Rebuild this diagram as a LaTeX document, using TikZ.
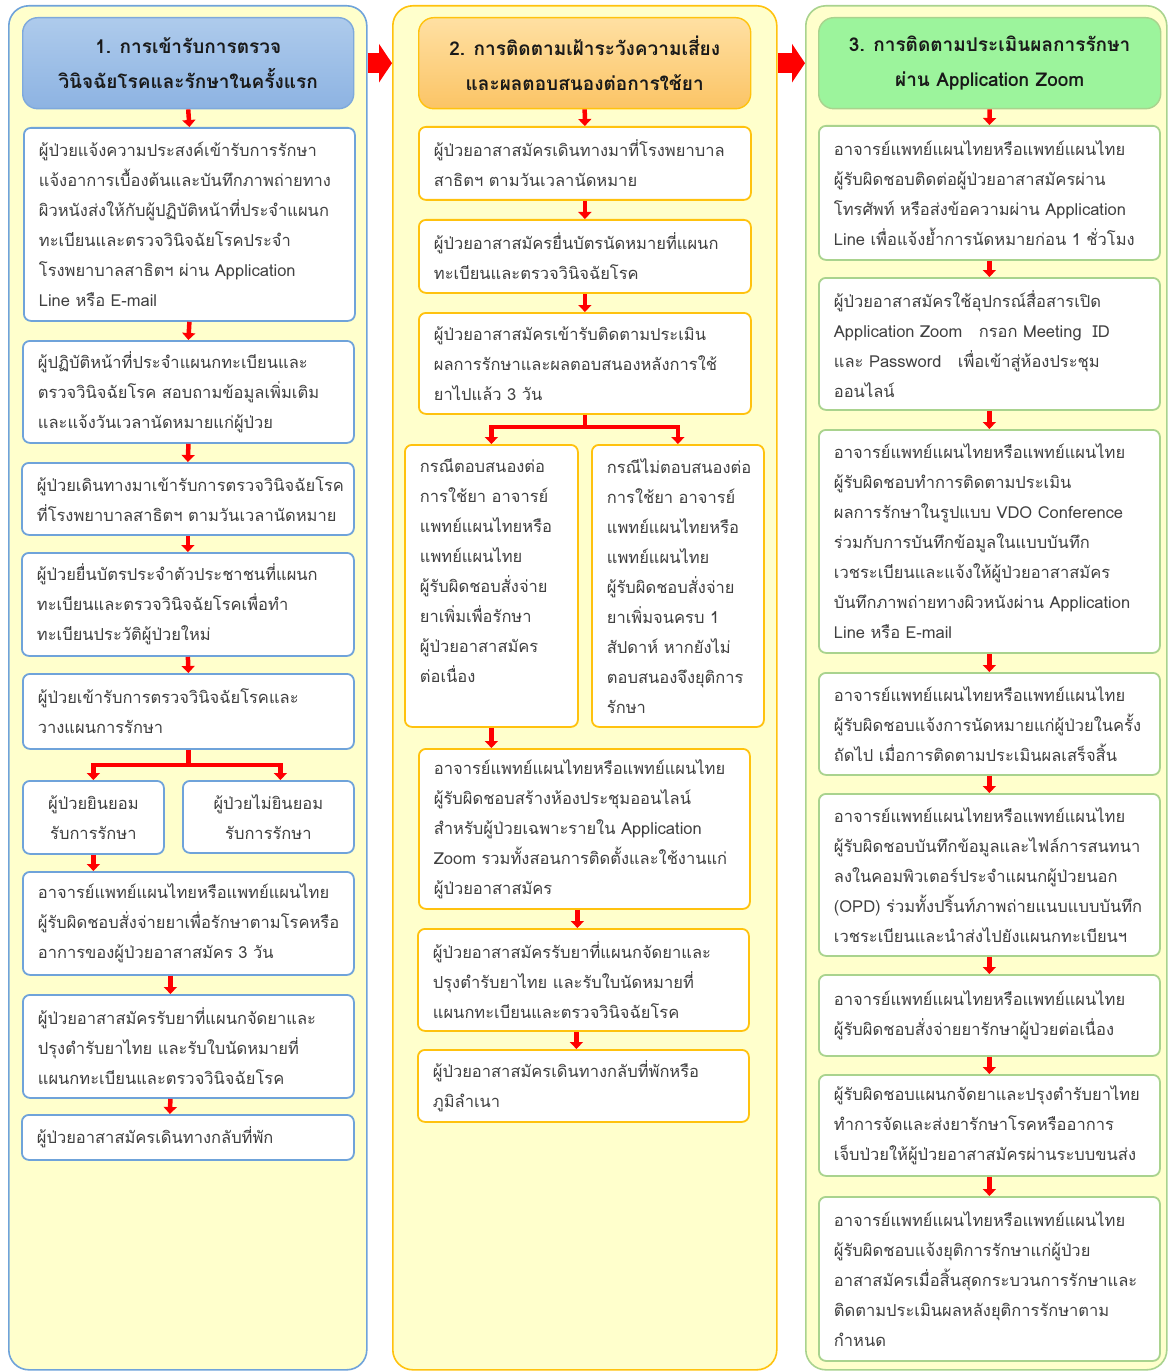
\documentclass[tikz,border=0pt]{standalone}
\usepackage{fontspec}
\setmainfont[Script=Thai]{Loma}
\usetikzlibrary{arrows.meta}

\definecolor{bgyellow}{HTML}{FFFFCC}
\definecolor{blueline}{HTML}{6FA3DA}
\definecolor{orangeline}{HTML}{FFC20E}
\definecolor{greenline}{HTML}{A9D38E}
\definecolor{txtgray}{HTML}{404040}
\definecolor{hdrbluetop}{HTML}{AECBEC}
\definecolor{hdrbluebot}{HTML}{8DB3E2}
\definecolor{hdrblueline}{HTML}{7EA9DC}
\definecolor{hdrorangetop}{HTML}{FFE0A3}
\definecolor{hdrorangebot}{HTML}{FBC465}
\definecolor{hdrgreen}{HTML}{9CF49C}

\begin{document}
\begin{tikzpicture}[x=1pt, y=-1pt]

\tikzstyle{colbox}=[draw, line width=1.6pt, rounded corners=20pt, fill=bgyellow, anchor=north west, inner sep=0pt, minimum height=1364pt];
\tikzstyle{hdr}=[draw, line width=1.4pt, rounded corners=15pt, anchor=north west, align=center, minimum height=91pt, font=\bfseries\fontsize{19}{35}\selectfont, text=black!90];
\tikzstyle{bx}=[draw, line width=1.8pt, rounded corners=7pt, fill=white, anchor=north west, align=left, inner xsep=15pt, inner ysep=0pt, text=txtgray, font=\fontsize{16.5}{30}\selectfont];
\tikzstyle{b1}=[bx, draw=blueline];
\tikzstyle{b2}=[bx, draw=orangeline];
\tikzstyle{b3}=[bx, draw=greenline];
\tikzstyle{arr}=[red, line width=4.5pt, -{Triangle[length=7pt, width=13pt]}];
\tikzstyle{bigarr}=[red, line width=20pt, -{Triangle[length=13pt, width=38pt]}];

\useasboundingbox (0,0) rectangle (1167,1372);

% columns
\node[colbox, draw=blueline, minimum width=358pt] (colA) at (8,5) {};
\node[colbox, draw=orangeline, minimum width=384pt] (colB) at (392,5) {};
\node[colbox, draw=greenline, minimum width=361pt] (colC) at (805,5) {};

% headers
\node[hdr, draw=hdrblueline, top color=hdrbluetop, bottom color=hdrbluebot, minimum width=331pt] (h1) at (22,17) {1. การเข้ารับการตรวจ\\วินิจฉัยโรคและรักษาในครั้งแรก};
\node[hdr, draw=orangeline, top color=hdrorangetop, bottom color=hdrorangebot, minimum width=332pt] (h2) at (418,17) {2. การติดตามเฝ้าระวังความเสี่ยง\\และผลตอบสนองต่อการใช้ยา};
\node[hdr, draw=greenline, fill=hdrgreen, minimum width=342pt] (h3) at (818,17) {3. การติดตามประเมินผลการรักษา\\ผ่าน Application Zoom};

\draw[bigarr] (colA.east |- h1.center) -- (colB.west |- h1.center);
\draw[bigarr] (colB.east |- h2.center) -- (colC.west |- h2.center);

% column 1
\node[b1, text width=301pt, minimum height=193pt] (a1) at (23,127) {ผู้ป่วยแจ้งความประสงค์เข้ารับการรักษา\\แจ้งอาการเบื้องต้นและบันทึกภาพถ่ายทาง\\ผิวหนังส่งให้กับผู้ปฏิบัติหน้าที่ประจำแผนก\\ทะเบียนและตรวจวินิจฉัยโรคประจำ\\โรงพยาบาลสาธิตฯ ผ่าน Application\\Line หรือ E-mail};
\node[b1, text width=301pt, minimum height=102pt] (a2) at (22,340) {ผู้ปฏิบัติหน้าที่ประจำแผนกทะเบียนและ\\ตรวจวินิจฉัยโรค สอบถามข้อมูลเพิ่มเติม\\และแจ้งวันเวลานัดหมายแก่ผู้ป่วย};
\node[b1, text width=302pt, minimum height=72pt] (a3) at (21,462) {ผู้ป่วยเดินทางมาเข้ารับการตรวจวินิจฉัยโรค\\ที่โรงพยาบาลสาธิตฯ ตามวันเวลานัดหมาย};
\node[b1, text width=302pt, minimum height=103pt] (a4) at (21,552) {ผู้ป่วยยื่นบัตรประจำตัวประชาชนที่แผนก\\ทะเบียนและตรวจวินิจฉัยโรคเพื่อทำ\\ทะเบียนประวัติผู้ป่วยใหม่};
\node[b1, text width=301pt, minimum height=75pt] (a5) at (22,673) {ผู้ป่วยเข้ารับการตรวจวินิจฉัยโรคและ\\วางแผนการรักษา};
\node[b1, align=center, text width=111pt, minimum height=73pt] (a6y) at (22,780) {ผู้ป่วยยินยอม\\รับการรักษา};
\node[b1, align=center, text width=141pt, minimum height=72pt] (a6n) at (182,780) {ผู้ป่วยไม่ยินยอม\\รับการรักษา};
\node[b1, text width=301pt, minimum height=103pt] (a7) at (22,871) {อาจารย์แพทย์แผนไทยหรือแพทย์แผนไทย\\ผู้รับผิดชอบสั่งจ่ายยาเพื่อรักษาตามโรคหรือ\\อาการของผู้ป่วยอาสาสมัคร 3 วัน};
\node[b1, text width=301pt, minimum height=103pt] (a8) at (22,994) {ผู้ป่วยอาสาสมัครรับยาที่แผนกจัดยาและ\\ปรุงตำรับยาไทย และรับใบนัดหมายที่\\แผนกทะเบียนและตรวจวินิจฉัยโรค};
\node[b1, text width=302pt, minimum height=45pt] (a9) at (21,1114) {ผู้ป่วยอาสาสมัครเดินทางกลับที่พัก};

\draw[arr] (h1.south) -- (a1.north);
\draw[arr] (a1.south) -- (a2.north);
\draw[arr] (a2.south) -- (a3.north);
\draw[arr] (a3.south) -- (a4.north);
\draw[arr] (a4.south) -- (a5.north);
\draw[arr] (a5.south) -- ++(0,15) -| (a6y.north);
\draw[arr] (a5.south) -- ++(0,15) -| ([xshift=12pt]a6n.north);
\draw[arr] (a6y.south) -- (a6y.south |- a7.north);
\draw[arr] ([xshift=-18pt]a7.south) -- ([xshift=-18pt]a8.north);
\draw[arr] ([xshift=-18pt]a8.south) -- ([xshift=-18pt]a9.north);

% column 2
\node[b2, text width=302pt, minimum height=73pt] (b1) at (418,126) {ผู้ป่วยอาสาสมัครเดินทางมาที่โรงพยาบาล\\สาธิตฯ ตามวันเวลานัดหมาย};
\node[b2, text width=302pt, minimum height=73pt] (b2) at (418,219) {ผู้ป่วยอาสาสมัครยื่นบัตรนัดหมายที่แผนก\\ทะเบียนและตรวจวินิจฉัยโรค};
\node[b2, text width=302pt, minimum height=101pt] (b3) at (418,312) {ผู้ป่วยอาสาสมัครเข้ารับติดตามประเมิน\\ผลการรักษาและผลตอบสนองหลังการใช้\\ยาไปแล้ว 3 วัน};
\node[b2, text width=143pt, minimum height=282pt] (b4y) at (404,444) {กรณีตอบสนองต่อ\\การใช้ยา อาจารย์\\แพทย์แผนไทยหรือ\\แพทย์แผนไทย\\ผู้รับผิดชอบสั่งจ่าย\\ยาเพิ่มเพื่อรักษา\\ผู้ป่วยอาสาสมัคร\\ต่อเนื่อง\\~};
\node[b2, text width=142pt, minimum height=282pt] (b4n) at (591,444) {กรณีไม่ตอบสนองต่อ\\การใช้ยา อาจารย์\\แพทย์แผนไทยหรือ\\แพทย์แผนไทย\\ผู้รับผิดชอบสั่งจ่าย\\ยาเพิ่มจนครบ 1\\สัปดาห์ หากยังไม่\\ตอบสนองจึงยุติการ\\รักษา};
\node[b2, text width=301pt, minimum height=160pt] (b5) at (418,748) {อาจารย์แพทย์แผนไทยหรือแพทย์แผนไทย\\ผู้รับผิดชอบสร้างห้องประชุมออนไลน์\\สำหรับผู้ป่วยเฉพาะรายใน Application\\Zoom รวมทั้งสอนการติดตั้งและใช้งานแก่\\ผู้ป่วยอาสาสมัคร};
\node[b2, text width=301pt, minimum height=102pt] (b6) at (417,928) {ผู้ป่วยอาสาสมัครรับยาที่แผนกจัดยาและ\\ปรุงตำรับยาไทย และรับใบนัดหมายที่\\แผนกทะเบียนและตรวจวินิจฉัยโรค};
\node[b2, text width=301pt, minimum height=72pt] (b7) at (417,1049) {ผู้ป่วยอาสาสมัครเดินทางกลับที่พักหรือ\\ภูมิลำเนา};

\draw[arr] (h2.south) -- (b1.north);
\draw[arr] (b1.south) -- (b2.north);
\draw[arr] (b2.south) -- (b3.north);
\draw[arr] (b3.south) -- ++(0,12) -| (b4y.north);
\draw[arr] (b3.south) -- ++(0,12) -| (b4n.north);
\draw[arr] (b4y.south) -- (b4y.south |- b5.north);
\draw[arr] ([xshift=-7pt]b5.south) -- ([xshift=-7pt]b5.south |- b6.north);
\draw[arr] ([xshift=-7pt]b6.south) -- ([xshift=-7pt]b6.south |- b7.north);

% column 3
\node[b3, text width=311pt, minimum height=134pt] (c1) at (818,125) {อาจารย์แพทย์แผนไทยหรือแพทย์แผนไทย\\ผู้รับผิดชอบติดต่อผู้ป่วยอาสาสมัครผ่าน\\โทรศัพท์ หรือส่งข้อความผ่าน Application\\Line เพื่อแจ้งย้ำการนัดหมายก่อน 1 ชั่วโมง};
\node[b3, text width=311pt, minimum height=132pt] (c2) at (818,277) {ผู้ป่วยอาสาสมัครใช้อุปกรณ์สื่อสารเปิด\\Application Zoom \ \ กรอก Meeting \ ID\\และ Password \ \ เพื่อเข้าสู่ห้องประชุม\\ออนไลน์};
\node[b3, text width=311pt, minimum height=223pt] (c3) at (818,429) {อาจารย์แพทย์แผนไทยหรือแพทย์แผนไทย\\ผู้รับผิดชอบทำการติดตามประเมิน\\ผลการรักษาในรูปแบบ VDO Conference\\ร่วมกับการบันทึกข้อมูลในแบบบันทึก\\เวชระเบียนและแจ้งให้ผู้ป่วยอาสาสมัคร\\บันทึกภาพถ่ายทางผิวหนังผ่าน Application\\Line หรือ E-mail};
\node[b3, text width=311pt, minimum height=102pt] (c4) at (818,672) {อาจารย์แพทย์แผนไทยหรือแพทย์แผนไทย\\ผู้รับผิดชอบแจ้งการนัดหมายแก่ผู้ป่วยในครั้ง\\ถัดไป เมื่อการติดตามประเมินผลเสร็จสิ้น};
\node[b3, text width=311pt, minimum height=162pt] (c5) at (818,793) {อาจารย์แพทย์แผนไทยหรือแพทย์แผนไทย\\ผู้รับผิดชอบบันทึกข้อมูลและไฟล์การสนทนา\\ลงในคอมพิวเตอร์ประจำแผนกผู้ป่วยนอก\\(OPD) ร่วมทั้งปริ้นท์ภาพถ่ายแนบแบบบันทึก\\เวชระเบียนและนำส่งไปยังแผนกทะเบียนฯ};
\node[b3, text width=311pt, minimum height=81pt] (c6) at (818,974) {อาจารย์แพทย์แผนไทยหรือแพทย์แผนไทย\\ผู้รับผิดชอบสั่งจ่ายยารักษาผู้ป่วยต่อเนื่อง};
\node[b3, text width=311pt, minimum height=101pt] (c7) at (818,1074) {ผู้รับผิดชอบแผนกจัดยาและปรุงตำรับยาไทย\\ทำการจัดและส่งยารักษาโรคหรืออาการ\\เจ็บป่วยให้ผู้ป่วยอาสาสมัครผ่านระบบขนส่ง};
\node[b3, text width=311pt, minimum height=164pt] (c8) at (818,1196) {อาจารย์แพทย์แผนไทยหรือแพทย์แผนไทย\\ผู้รับผิดชอบแจ้งยุติการรักษาแก่ผู้ป่วย\\อาสาสมัครเมื่อสิ้นสุดกระบวนการรักษาและ\\ติดตามประเมินผลหลังยุติการรักษาตาม\\กำหนด};

\draw[arr] (h3.south) -- (c1.north);
\draw[arr] (c1.south) -- (c2.north);
\draw[arr] (c2.south) -- (c3.north);
\draw[arr] (c3.south) -- (c4.north);
\draw[arr] (c4.south) -- (c5.north);
\draw[arr] (c5.south) -- (c6.north);
\draw[arr] (c6.south) -- (c7.north);
\draw[arr] (c7.south) -- (c8.north);
\end{tikzpicture}
\end{document}
